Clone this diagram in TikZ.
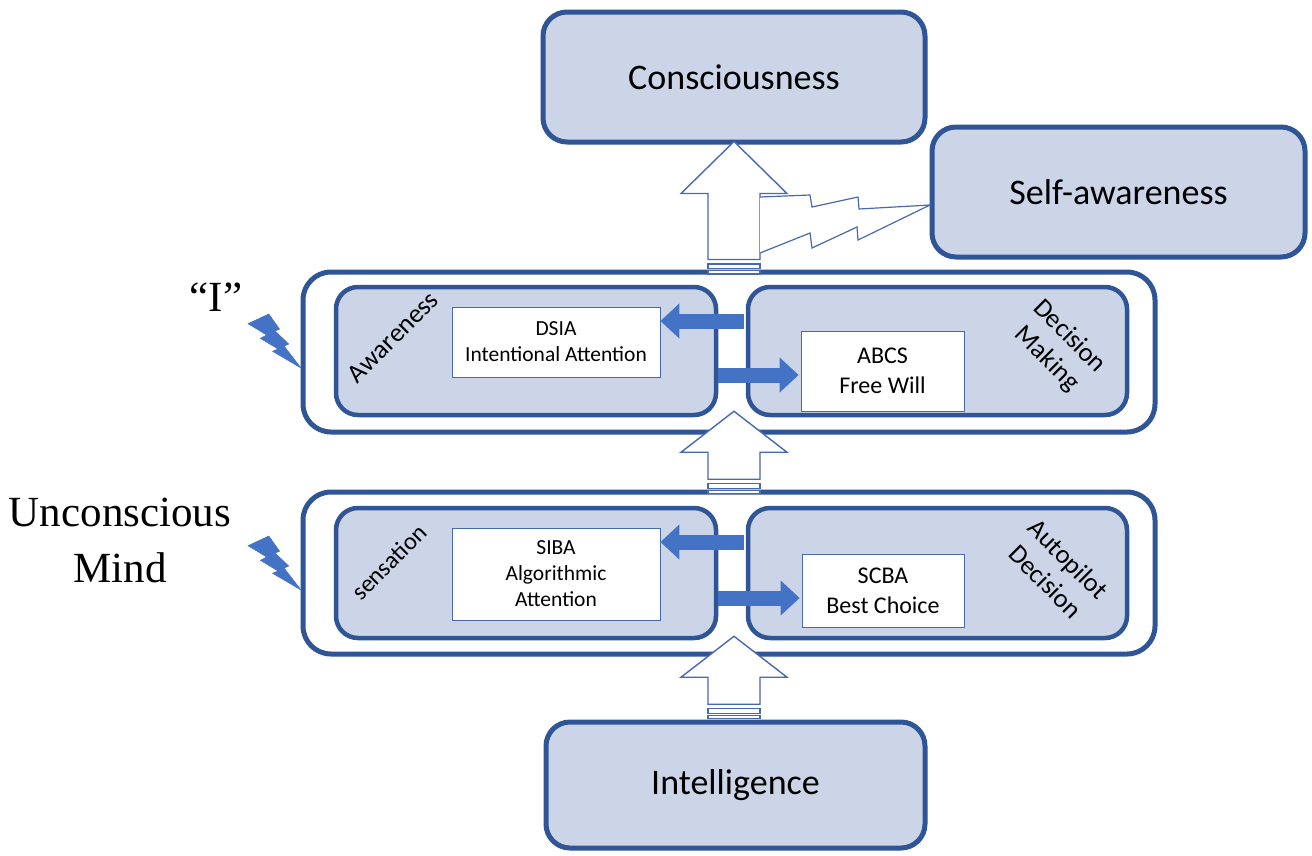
\documentclass[tikz,border=0pt]{standalone}
\usepackage{fontspec}
\setmainfont{Carlito}
\newfontfamily\tnr{Liberation Serif}
\usetikzlibrary{calc,arrows.meta}
\definecolor{bdr}{RGB}{47,85,151}
\definecolor{dotfill}{RGB}{204,213,232}
\definecolor{arrowc}{RGB}{68,114,196}
\definecolor{outl}{RGB}{72,104,175}
\newcommand\uparr[3]{% #1 tip coordinate, #2 head height, #3 shaft length
  \draw[uparrow] (#1) -- ++(53,#2) -- ++(-27,0) -- ++(0,#3) -- ++(-52,0) -- ++(0,-#3) -- ++(-27,0) -- cycle;
  \draw[uparrow] ($(#1)+(-26,#2+#3+4.5)$) rectangle ++(52,4.5);
  \draw[uparrow] ($(#1)+(-26,#2+#3+11)$) rectangle ++(52,3.5);
}
\begin{document}
\begin{tikzpicture}[x=1pt,y=-1pt,
  bigbox/.style={draw=bdr,line width=5pt,fill=dotfill,rounded corners=24pt,inner sep=0pt,font=\fontsize{36}{43}\selectfont},
  framebox/.style={draw=bdr,line width=5pt,fill=white,rounded corners=28pt,inner sep=0pt,minimum width=852pt},
  sidebox/.style={draw=bdr,line width=4.5pt,fill=dotfill,rounded corners=22pt,inner sep=0pt,minimum width=380pt,minimum height=128pt},
  labelbox/.style={draw=outl,line width=0.8pt,fill=white,inner sep=0pt,align=center},
  smalltxt/.style={font=\fontsize{21.5}{26}\selectfont},
  midtxt/.style={font=\fontsize{24}{30}\selectfont},
  rottxt/.style={inner sep=0pt,align=center,font=\fontsize{26.5}{32}\selectfont},
  harrow/.style={draw=arrowc,line width=15pt,-{Triangle[length=19pt,width=34pt]}},
  uparrow/.style={draw=outl,line width=1.4pt,fill=white,line join=miter},
  boltline/.style={draw=outl,line width=1.2pt,fill=white,line join=miter},
  boltsolid/.style={fill=arrowc,draw=arrowc,line width=0.5pt,line join=miter},
  serif/.style={font=\tnr\fontsize{43}{56}\selectfont,align=center,inner sep=0pt}
]
\useasboundingbox[fill=white] (0,0) rectangle (1312,855);

% top boxes
\node[bigbox,minimum width=382pt,minimum height=130pt] (cons) at (734,77) {Consciousness};
\node[bigbox,minimum width=373pt,minimum height=130pt] (selfaw) at (1118.5,192) {Self-awareness};
\node[bigbox,minimum width=379pt,minimum height=126pt] (intel) at (735.5,785) {Intelligence};

% upper frame
\node[framebox,minimum height=160pt] (frameU) at (729,352) {};
\node[sidebox] (awr) at (526,351) {};
\node[sidebox,minimum width=379pt] (dec) at (937.5,351) {};
\node[labelbox,smalltxt,minimum width=208pt,minimum height=70pt] (dsia) at (556,342) {DSIA\\Intentional Attention};
\node[labelbox,midtxt,minimum width=163pt,minimum height=80pt] (abcs) at (882.5,371) {ABCS\\Free Will};
\node[rottxt,rotate=45] (awrlbl) at (393,337) {Awareness};
\node[rottxt,rotate=-45] (declbl) at (1058,348) {Decision\\Making};

% lower frame
\node[framebox,minimum height=162pt] (frameL) at (729,573) {};
\node[sidebox,minimum height=130pt] (sens) at (526,573) {};
\node[sidebox,minimum width=379pt,minimum height=130pt] (auto) at (937.5,573) {};
\node[labelbox,smalltxt,minimum width=208pt,minimum height=92pt] (siba) at (556,574) {SIBA\\Algorithmic\\Attention};
\node[labelbox,midtxt,minimum width=162pt,minimum height=73pt] (scba) at (883,590.5) {SCBA\\Best Choice};
\node[rottxt,rotate=45,font=\fontsize{24.5}{30}\selectfont] (senslbl) at (389,562) {sensation};
\node[rottxt,rotate=-45] (autolbl) at (1057,570) {Autopilot\\Decision};

% horizontal block arrows
\draw[harrow] ($(dec.west)+(-2,-30)$) -- ($(dsia.east)+(0,-21)$);
\draw[harrow] ($(awr.east)+(0,24)$) -- ($(abcs.west)+(-2,4)$);
\draw[harrow] ($(auto.west)+(-2,-31)$) -- ($(siba.east)+(0,-32)$);
\draw[harrow] ($(sens.east)+(0,25)$) -- ($(scba.west)+(-2,7.5)$);

% vertical block arrows
\coordinate (t1) at ($(cons.south)+(0,-3)$);
\coordinate (t2) at ($(awr.south east)!0.5!(dec.south west)+(2,-6)$);
\coordinate (t3) at ($(sens.south east)!0.5!(auto.south west)+(2,-4)$);
\uparr{t1}{52}{66}
\uparr{t2}{41}{27}
\uparr{t3}{41}{27}

% zigzag from self-awareness to the arrow
\draw[boltline] (760,197) -- (810,195) -- (812,207) -- (858,197) -- (859,209) -- (930,205)
  -- (858,240) -- (857,227) -- (812,248) -- (810,233) -- (760,253);

% side labels
\node[serif] (ilbl) at (216,297) {“I”};
\node[serif] (ulbl) at (120,540) {Unconscious\\Mind};

% small lightning bolts
\foreach \dy in {0,222}{
  \begin{scope}[yshift=-\dy pt]
  \fill[boltsolid] (268.8,314) -- (279.6,329.2) -- (275.1,331.0) -- (288.7,344.0) -- (284.2,346.2)
     -- (301,368) -- (272.6,351.3) -- (278.0,349.0) -- (260.3,338.3) -- (266.7,335.0) -- (248,323.7) -- cycle;
  \end{scope}
}
\end{tikzpicture}
\end{document}
